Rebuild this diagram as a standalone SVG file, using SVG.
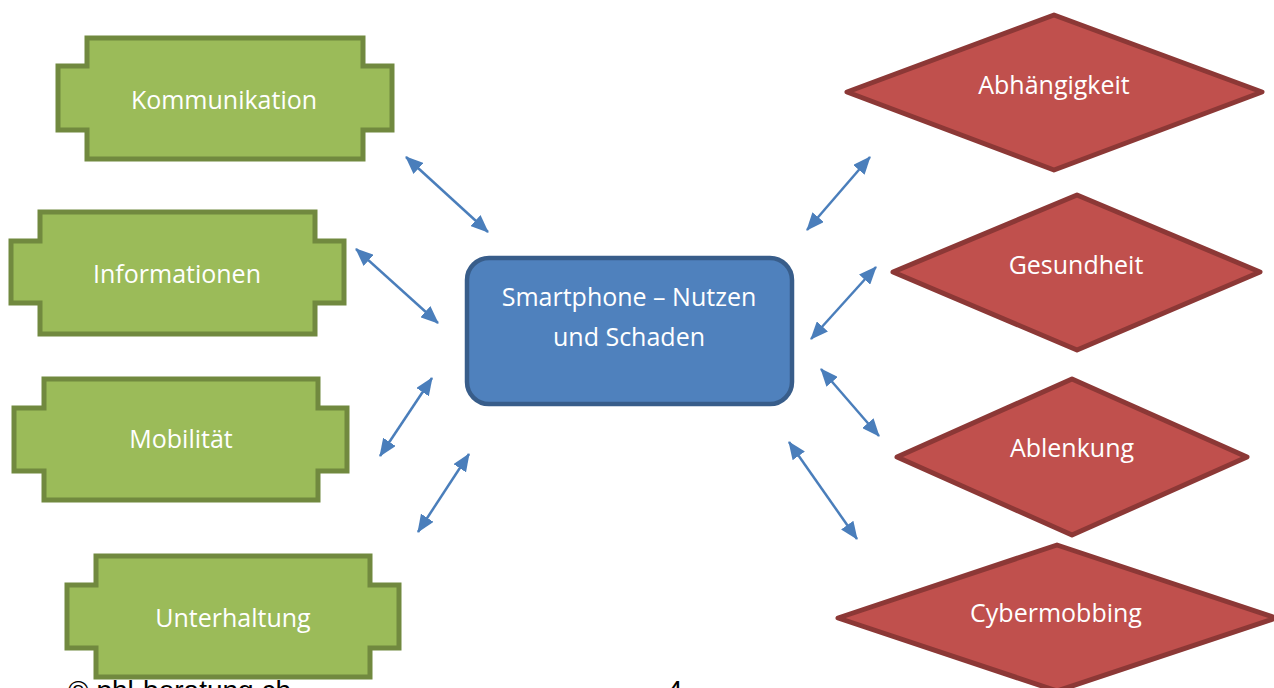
<svg xmlns="http://www.w3.org/2000/svg" width="1274" height="688" viewBox="0 0 1274 688">
<style>
.g{fill:#9BBB59;stroke:#71893F;stroke-width:5;stroke-linejoin:miter}
.r{fill:#C0504D;stroke:#8C3836;stroke-width:5;stroke-linejoin:round}
.b{fill:#4F81BD;stroke:#385D8A;stroke-width:4.5}
.t{font-family:"Open Sans","Liberation Sans",sans-serif;font-size:25px;fill:#FFFFFF;text-anchor:middle}
.c{stroke:#4A7EBB;stroke-width:2.5;fill:none;marker-start:url(#ah);marker-end:url(#ah)}
.f{font-family:"Liberation Sans",Arial,sans-serif;font-size:28px;fill:#000000}
</style>
<defs>
<marker id="ah" viewBox="0 0 18 15" refX="17" refY="7.5" markerWidth="18" markerHeight="15" markerUnits="userSpaceOnUse" orient="auto-start-reverse">
<path d="M0,0 L18,7.5 L0,15 Z" fill="#4A7EBB"/>
</marker>
</defs>
<rect width="1274" height="688" fill="#FFFFFF"/>
<g id="connectors">
<line class="c" x1="406" y1="157" x2="488" y2="232"/>
<line class="c" x1="356" y1="249" x2="438" y2="323"/>
<line class="c" x1="432" y1="378" x2="380" y2="456"/>
<line class="c" x1="469" y1="454" x2="418" y2="532"/>
<line class="c" x1="807" y1="230" x2="870" y2="157"/>
<line class="c" x1="811" y1="339" x2="876" y2="267"/>
<line class="c" x1="821" y1="369" x2="879" y2="436"/>
<line class="c" x1="789" y1="442" x2="857" y2="539"/>
</g>
<g id="center">
<rect class="b" x="467" y="258" width="325" height="146" rx="22" ry="22"/>
<text class="t" x="629" y="306">Smartphone – Nutzen</text>
<text class="t" x="629" y="346">und Schaden</text>
</g>
<g id="kommunikation">
<path class="g" d="M87,38 H363 V66 H392 V130 H363 V159 H87 V130 H58 V66 H87 Z"/>
<text class="t" x="224" y="109">Kommunikation</text>
</g>
<g id="informationen">
<path class="g" d="M40,212 H315 V241 H344 V303 H315 V334 H40 V303 H11 V241 H40 Z"/>
<text class="t" x="177" y="283">Informationen</text>
</g>
<g id="mobilitaet">
<path class="g" d="M44,379 H318 V408 H347 V471 H318 V500 H44 V471 H14 V408 H44 Z"/>
<text class="t" x="181" y="448">Mobilität</text>
</g>
<g id="unterhaltung">
<path class="g" d="M96,556 H370 V585 H399 V648 H370 V677 H96 V648 H67 V585 H96 Z"/>
<text class="t" x="233" y="627">Unterhaltung</text>
</g>
<g id="abhaengigkeit">
<polygon class="r" points="1054,15 1262,92 1054,170 847,92"/>
<text class="t" x="1054" y="94">Abhängigkeit</text>
</g>
<g id="gesundheit">
<polygon class="r" points="1077,195 1260,272 1077,350 893,272"/>
<text class="t" x="1076" y="274">Gesundheit</text>
</g>
<g id="ablenkung">
<polygon class="r" points="1072,379 1247,457 1072,535 897,457"/>
<text class="t" x="1072" y="457">Ablenkung</text>
</g>
<g id="cybermobbing">
<polygon class="r" points="1057,545 1276,618 1057,691 838,618"/>
<text class="t" x="1056" y="622">Cybermobbing</text>
</g>
<g id="footer">
<text class="f" x="68" y="700">© phl-beratung.ch</text>
<text class="f" x="667" y="700">4</text>
</g>
</svg>
